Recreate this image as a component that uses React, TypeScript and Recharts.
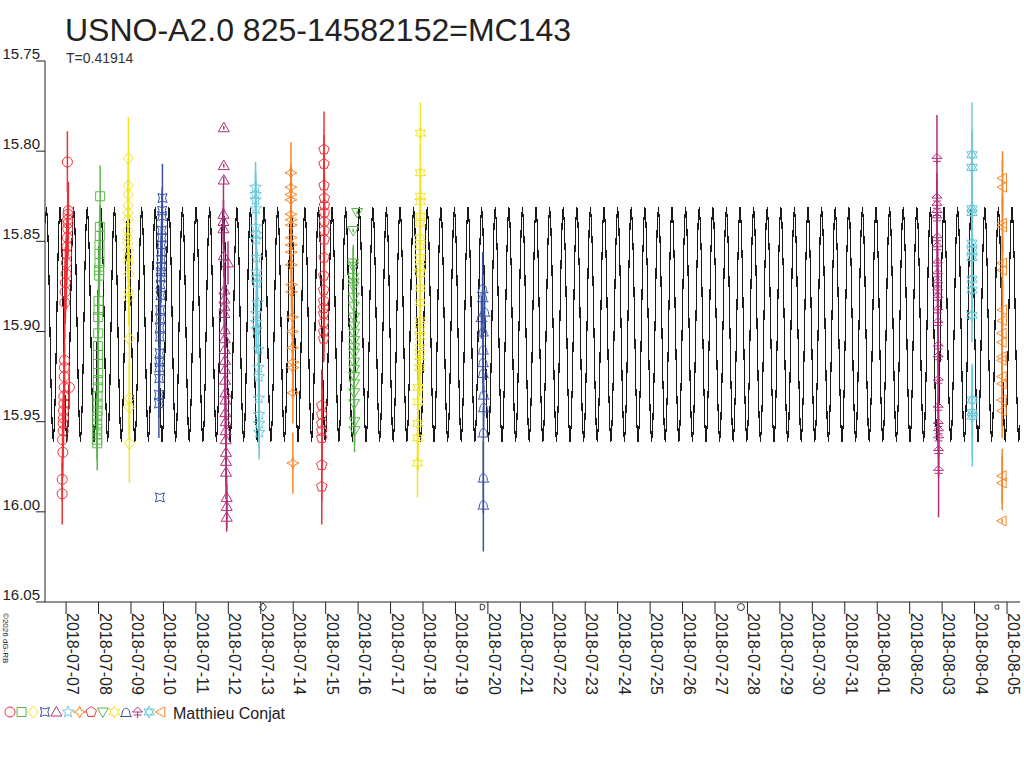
import React from "react";
import {
  ComposedChart,
  Line,
  Scatter,
  ErrorBar,
  XAxis,
  YAxis,
  ReferenceDot,
} from "recharts";

// days counted from 2018-07-07 00:00
const DATE_LABELS = [
  "2018-07-07", "2018-07-08", "2018-07-09", "2018-07-10", "2018-07-11",
  "2018-07-12", "2018-07-13", "2018-07-14", "2018-07-15", "2018-07-16",
  "2018-07-17", "2018-07-18", "2018-07-19", "2018-07-20", "2018-07-21",
  "2018-07-22", "2018-07-23", "2018-07-24", "2018-07-25", "2018-07-26",
  "2018-07-27", "2018-07-28", "2018-07-29", "2018-07-30", "2018-07-31",
  "2018-08-01", "2018-08-02", "2018-08-03", "2018-08-04", "2018-08-05",
];
const DAY_TICKS = DATE_LABELS.map((_, i) => i);
const MAG_TICKS = [15.75, 15.8, 15.85, 15.9, 15.95, 16.0, 16.05];
const X_DOMAIN: [number, number] = [-0.65, 29.4];
const Y_DOMAIN: [number, number] = [15.75, 16.05];

// model light curve: period and one cycle of magnitudes (phase 0 = maximum)
const PERIOD = 0.41914;
const EPOCH_MAX = 16.58;
const CYCLE_MAG = [
  15.831, 15.84, 15.863, 15.896, 15.929, 15.952,
  15.961, 15.952, 15.929, 15.896, 15.863, 15.84,
];

// observation sessions: [day, mag, error]
const S_0707 = [
  [-0.12, 15.99, 0.017], [-0.12, 15.982, 0.012], [-0.1, 15.967, 0.014], [-0.11, 15.96, 0.015],
  [-0.09, 15.955, 0.015], [-0.09, 15.951, 0.013], [-0.08, 15.948, 0.014], [-0.08, 15.944, 0.012],
  [-0.07, 15.94, 0.014], [-0.07, 15.936, 0.013], [-0.06, 15.931, 0.015], [-0.06, 15.925, 0.014],
  [-0.05, 15.92, 0.013], [-0.05, 15.916, 0.016], [0.1, 15.931, 0.012], [-0.04, 15.884, 0.02],
  [-0.03, 15.878, 0.018], [-0.02, 15.873, 0.02], [0.0, 15.868, 0.02], [0.01, 15.862, 0.018],
  [0.02, 15.857, 0.017], [0.03, 15.853, 0.016], [0.04, 15.848, 0.015], [0.05, 15.843, 0.017],
  [0.05, 15.838, 0.015], [0.06, 15.835, 0.016], [0.06, 15.84, 0.018], [0.07, 15.833, 0.016],
  [0.04, 15.806, 0.017],
];
const S_0708 = [
  [1.05, 15.825, 0.017], [1.04, 15.842, 0.012], [1.04, 15.847, 0.012], [1.03, 15.852, 0.013],
  [1.03, 15.857, 0.012], [1.03, 15.862, 0.013], [1.02, 15.866, 0.013], [1.02, 15.869, 0.012],
  [1.0, 15.883, 0.014], [1.0, 15.888, 0.013], [0.99, 15.892, 0.014], [0.99, 15.901, 0.012],
  [0.98, 15.908, 0.013], [0.98, 15.913, 0.012], [0.98, 15.918, 0.013], [0.99, 15.923, 0.012],
  [0.98, 15.927, 0.013], [0.98, 15.931, 0.012], [0.97, 15.936, 0.012], [0.97, 15.94, 0.013],
  [0.97, 15.944, 0.012], [0.96, 15.947, 0.012], [0.96, 15.951, 0.013], [0.96, 15.954, 0.012],
  [0.96, 15.957, 0.013], [0.96, 15.96, 0.012], [0.96, 15.962, 0.015],
];
const S_0709 = [
  [1.92, 15.804, 0.023], [1.92, 15.819, 0.015], [1.92, 15.824, 0.015], [1.91, 15.83, 0.014],
  [1.91, 15.834, 0.015], [1.91, 15.838, 0.014], [1.9, 15.844, 0.015], [1.9, 15.848, 0.014],
  [1.9, 15.851, 0.016], [1.92, 15.855, 0.015], [1.92, 15.859, 0.014], [1.92, 15.862, 0.015],
  [1.94, 15.868, 0.016], [1.93, 15.878, 0.015], [1.93, 15.881, 0.016], [1.95, 15.904, 0.02],
  [1.95, 15.937, 0.02], [1.95, 15.942, 0.018], [1.95, 15.962, 0.022],
];
const S_0710 = [
  [2.97, 15.826, 0.019], [2.96, 15.833, 0.013], [2.96, 15.836, 0.013], [2.95, 15.844, 0.014],
  [2.95, 15.848, 0.013], [2.94, 15.852, 0.013], [2.94, 15.856, 0.014], [2.93, 15.86, 0.013],
  [2.93, 15.864, 0.014], [2.92, 15.867, 0.013], [2.92, 15.87, 0.014], [2.91, 15.874, 0.013],
  [2.91, 15.88, 0.014], [2.9, 15.888, 0.013], [2.9, 15.893, 0.014], [2.89, 15.898, 0.013],
  [2.89, 15.903, 0.014], [2.88, 15.912, 0.013], [2.88, 15.917, 0.014], [2.87, 15.92, 0.013],
  [2.87, 15.926, 0.014], [2.86, 15.935, 0.013], [2.86, 15.94, 0.019], [2.89, 15.992, 0],
];
const S_0712 = [
  [4.86, 15.787, 0.001], [4.86, 15.808, 0.001], [4.86, 15.816, 0.002], [4.85, 15.835, 0.017],
  [4.85, 15.839, 0.012], [4.85, 15.843, 0.012], [4.86, 15.858, 0.012], [4.99, 15.862, 0.012],
  [4.88, 15.877, 0.015], [4.88, 15.882, 0.014], [4.88, 15.886, 0.015], [4.88, 15.89, 0.014],
  [4.89, 15.899, 0.015], [4.89, 15.904, 0.014], [4.89, 15.91, 0.015], [4.9, 15.916, 0.014],
  [4.9, 15.921, 0.015], [4.9, 15.927, 0.014], [4.91, 15.934, 0.015], [4.91, 15.938, 0.014],
  [4.91, 15.945, 0.015], [4.92, 15.95, 0.014], [4.92, 15.955, 0.015], [4.92, 15.96, 0.014],
  [4.93, 15.967, 0.015], [4.93, 15.972, 0.014], [4.93, 15.978, 0.015], [4.95, 15.992, 0.012],
  [4.95, 15.997, 0.012], [4.95, 16.003, 0.008],
];
const S_0713 = [
  [5.84, 15.82, 0.014], [5.84, 15.824, 0.013], [5.84, 15.827, 0.014], [5.85, 15.832, 0.013],
  [5.85, 15.842, 0.014], [5.86, 15.846, 0.013], [5.86, 15.849, 0.014], [5.87, 15.859, 0.014],
  [5.87, 15.867, 0.013], [5.88, 15.87, 0.014], [5.88, 15.873, 0.013], [5.9, 15.884, 0.014],
  [5.86, 15.89, 0.013], [5.86, 15.895, 0.014], [5.87, 15.899, 0.013], [5.93, 15.91, 0.014],
  [5.93, 15.92, 0.013], [5.94, 15.925, 0.014], [5.94, 15.937, 0.014], [5.95, 15.946, 0.013],
  [5.95, 15.951, 0.014], [5.95, 15.956, 0.015],
];
const S_0714 = [
  [6.93, 15.812, 0.017], [6.93, 15.82, 0.013], [6.93, 15.824, 0.013], [6.93, 15.827, 0.013],
  [6.93, 15.835, 0.013], [6.94, 15.838, 0.013], [6.94, 15.841, 0.013], [6.94, 15.848, 0.013],
  [6.94, 15.852, 0.013], [6.94, 15.856, 0.013], [6.94, 15.863, 0.014], [6.95, 15.874, 0.014],
  [6.95, 15.878, 0.014], [6.98, 15.892, 0.015], [6.98, 15.9, 0.015], [6.98, 15.909, 0.015],
  [6.99, 15.917, 0.016], [6.99, 15.92, 0.016], [6.99, 15.934, 0.017], [6.99, 15.973, 0.017],
];
const S_0715 = [
  [7.95, 15.799, 0.021], [7.95, 15.807, 0.016], [7.95, 15.819, 0.016], [7.96, 15.826, 0.015],
  [7.96, 15.83, 0.015], [7.96, 15.834, 0.015], [7.96, 15.839, 0.015], [7.96, 15.844, 0.015],
  [7.96, 15.849, 0.015], [7.95, 15.859, 0.016], [7.94, 15.869, 0.016], [7.94, 15.877, 0.016],
  [7.94, 15.883, 0.016], [7.94, 15.887, 0.016], [7.94, 15.89, 0.016], [7.94, 15.895, 0.016],
  [7.94, 15.9, 0.016], [7.94, 15.904, 0.013], [7.88, 15.941, 0.02], [7.88, 15.946, 0.02],
  [7.88, 15.951, 0.02], [7.88, 15.955, 0.02], [7.88, 15.959, 0.02], [7.88, 15.974, 0.02],
  [7.88, 15.986, 0.021],
];
const S_0716 = [
  [8.97, 15.834, 0.001], [8.85, 15.844, 0.001], [8.85, 15.862, 0.01], [8.85, 15.864, 0.01],
  [8.85, 15.87, 0.01], [8.86, 15.873, 0.01], [8.86, 15.875, 0.01], [8.87, 15.881, 0.01],
  [8.87, 15.886, 0.01], [8.88, 15.892, 0.01], [8.88, 15.897, 0.01], [8.88, 15.901, 0.01],
  [8.88, 15.905, 0.01], [8.88, 15.909, 0.01], [8.88, 15.912, 0.01], [8.88, 15.917, 0.01],
  [8.88, 15.921, 0.01], [8.88, 15.925, 0.01], [8.88, 15.929, 0.01], [8.88, 15.934, 0.01],
  [8.88, 15.94, 0.01], [8.89, 15.95, 0.012], [8.89, 15.955, 0.012],
];
const S_0718 = [
  [10.92, 15.79, 0.017], [10.92, 15.812, 0.016], [10.92, 15.825, 0.016], [10.92, 15.828, 0.016],
  [10.92, 15.836, 0.016], [10.91, 15.84, 0.016], [10.91, 15.848, 0.016], [10.91, 15.853, 0.016],
  [10.91, 15.859, 0.016], [10.91, 15.864, 0.016], [10.91, 15.868, 0.016], [10.92, 15.876, 0.016],
  [10.91, 15.884, 0.016], [10.91, 15.894, 0.016], [10.91, 15.899, 0.016], [10.91, 15.903, 0.016],
  [10.9, 15.909, 0.016], [10.9, 15.914, 0.016], [10.9, 15.92, 0.016], [10.85, 15.931, 0.018],
  [10.85, 15.939, 0.018], [10.84, 15.951, 0.018], [10.84, 15.959, 0.018], [10.83, 15.973, 0.019],
];
const S_0720 = [
  [12.84, 15.876, 0.02], [12.84, 15.881, 0.012], [12.9, 15.889, 0.012], [12.8, 15.892, 0.012],
  [12.85, 15.9, 0.012], [12.85, 15.91, 0.012], [12.85, 15.917, 0.012], [12.85, 15.923, 0.012],
  [12.87, 15.935, 0.012], [12.87, 15.942, 0.012], [12.86, 15.956, 0.014], [12.86, 15.981, 0.02],
  [12.86, 15.996, 0.026],
];
const S_0803 = [
  [26.84, 15.804, 0.024], [26.84, 15.826, 0.014], [26.84, 15.83, 0.014], [26.84, 15.834, 0.014],
  [26.84, 15.837, 0.014], [26.85, 15.848, 0.014], [26.85, 15.853, 0.014], [26.86, 15.862, 0.014],
  [26.86, 15.868, 0.014], [26.86, 15.873, 0.014], [26.86, 15.877, 0.014], [26.87, 15.881, 0.015],
  [26.87, 15.888, 0.015], [26.87, 15.895, 0.015], [26.88, 15.908, 0.015], [26.88, 15.914, 0.015],
  [26.88, 15.927, 0.015], [26.88, 15.942, 0.015], [26.88, 15.951, 0.015], [26.89, 15.955, 0.015],
  [26.89, 15.959, 0.015], [26.89, 15.966, 0.015], [26.89, 15.977, 0.026],
];
const S_0804 = [
  [27.92, 15.802, 0.029], [27.92, 15.809, 0.02], [27.92, 15.832, 0.015], [27.92, 15.834, 0.015],
  [27.92, 15.851, 0.015], [27.92, 15.855, 0.015], [27.92, 15.859, 0.015], [27.92, 15.871, 0.015],
  [27.92, 15.877, 0.015], [27.92, 15.891, 0.015], [27.93, 15.938, 0.02], [27.93, 15.945, 0.025],
  [27.93, 15.947, 0.028],
];
const S_0805 = [
  [28.86, 15.815, 0.015], [28.86, 15.82, 0.015], [28.86, 15.84, 0.015], [28.86, 15.842, 0.015],
  [28.86, 15.862, 0.015], [28.86, 15.866, 0.015], [28.86, 15.888, 0.015], [28.86, 15.894, 0.015],
  [28.85, 15.901, 0.015], [28.85, 15.906, 0.015], [28.85, 15.914, 0.015], [28.85, 15.916, 0.015],
  [28.85, 15.925, 0.015], [28.85, 15.929, 0.015], [28.85, 15.938, 0.015], [28.85, 15.944, 0.015],
  [28.85, 15.98, 0.015], [28.85, 15.984, 0.015], [28.85, 16.005, 0.001],
];

// small markers under the axis: [day, symbol]
const AXIS_MARKS: [number, string][] = [
  [6.07, "diamond"], [12.82, "halfR"], [20.8, "circle"], [28.69, "halfL"],
];

const RED = "#ef3038";
const GREEN = "#5ab84a";
const YELLOW = "#f2e51f";
const BLUE = "#3953a4";
const PURPLE = "#b1307c";
const CYAN = "#68c9da";
const ORANGE = "#f7862a";

const SESSIONS = [
  { data: S_0707, color: RED, symbol: "circle" },
  { data: S_0708, color: GREEN, symbol: "square" },
  { data: S_0709, color: YELLOW, symbol: "diamond" },
  { data: S_0710, color: BLUE, symbol: "astroid" },
  { data: S_0712, color: PURPLE, symbol: "triangle" },
  { data: S_0713, color: CYAN, symbol: "star5" },
  { data: S_0714, color: ORANGE, symbol: "star4" },
  { data: S_0715, color: RED, symbol: "pentagon" },
  { data: S_0716, color: GREEN, symbol: "triDown" },
  { data: S_0718, color: YELLOW, symbol: "star6" },
  { data: S_0720, color: BLUE, symbol: "bell" },
  { data: S_0803, color: PURPLE, symbol: "trident" },
  { data: S_0804, color: CYAN, symbol: "hexagram" },
  { data: S_0805, color: ORANGE, symbol: "triLeft" },
];

const OBSERVER = "Matthieu Conjat";
const FONT = "'Liberation Sans', Arial, sans-serif";

function starPath(points: number, outer: number, inner: number) {
  let d = "";
  for (let i = 0; i < points * 2; i++) {
    const r = i % 2 === 0 ? outer : inner;
    const a = (Math.PI * i) / points - Math.PI / 2;
    d += `${i === 0 ? "M" : "L"}${(r * Math.cos(a)).toFixed(2)},${(r * Math.sin(a)).toFixed(2)}`;
  }
  return d + "Z";
}

const GLYPHS: Record<string, string> = {
  square: "M-4.5,-4.5H4.5V4.5H-4.5Z",
  diamond: "M0,-6L5,0L0,6L-5,0Z",
  astroid: "M-4.5,-4.5Q0,-1.5 4.5,-4.5Q1.5,0 4.5,4.5Q0,1.5 -4.5,4.5Q-1.5,0 -4.5,-4.5Z",
  triangle: "M0,-5.5L5.5,4L-5.5,4Z",
  star5: starPath(5, 6, 2.6),
  star4: "M0,-6L1.8,-1.8L6,0L1.8,1.8L0,6L-1.8,1.8L-6,0L-1.8,-1.8Z",
  pentagon: starPath(5, 5.5, 4.45),
  triDown: "M-5.5,-4L5.5,-4L0,5.5Z",
  star6: starPath(6, 6, 3),
  bell: "M-4,3C-4,-6 4,-6 4,3L5.5,4.5L-5.5,4.5Z",
  trident: "M0,-5L5,0L-5,0ZM0,0V6M-4,3H4",
  hexagram: "M0,-6L5.2,3L-5.2,3ZM0,6L5.2,-3L-5.2,-3Z",
  triLeft: "M-5.5,0L4,-5L4,5Z",
  halfR: "M-2.5,-4H0A4,4 0 0 1 0,4H-2.5Z",
  halfL: "M2.5,-3H0A3,3 0 0 0 0,3H2.5Z",
};

function Glyph({ cx, cy, symbol, color, scale = 1 }: any) {
  if (cx == null || cy == null) return null;
  const common = { fill: "none", stroke: color, strokeWidth: 1 / scale };
  return (
    <g transform={`translate(${cx},${cy}) scale(${scale})`}>
      {symbol === "circle" ? (
        <circle r={5} {...common} />
      ) : (
        <path d={GLYPHS[symbol]} {...common} />
      )}
    </g>
  );
}

function buildCurve() {
  const pts: { t: number; mag: number }[] = [];
  const first = Math.floor((X_DOMAIN[0] - EPOCH_MAX) / PERIOD);
  const last = Math.ceil((X_DOMAIN[1] - EPOCH_MAX) / PERIOD);
  for (let n = first; n <= last; n++) {
    CYCLE_MAG.forEach((mag, j) => {
      const t = EPOCH_MAX + (n + j / CYCLE_MAG.length) * PERIOD;
      if (t >= X_DOMAIN[0] && t <= X_DOMAIN[1]) pts.push({ t, mag });
    });
  }
  return pts;
}

const curveData = buildCurve();
const sessionData = SESSIONS.map((s) => ({
  ...s,
  rows: s.data.map(([t, mag, err]) => ({ t, mag, err })),
}));

function XTick({ x, y, payload }: any) {
  return (
    <text
      transform={`translate(${x + 1},${y - 1}) rotate(90)`}
      textAnchor="start"
      fontSize={16}
      fontFamily={FONT}
      fill="#222"
    >
      {DATE_LABELS[payload.value]}
    </text>
  );
}

function YTick({ x, y, payload }: any) {
  return (
    <text x={x + 4} y={y - 2} textAnchor="end" fontSize={15} fontFamily={FONT} fill="#222">
      {payload.value.toFixed(2)}
    </text>
  );
}

export default function App() {
  return (
    <div
      style={{
        position: "absolute",
        left: 0,
        top: 0,
        width: 1024,
        height: 768,
        background: "#fff",
        fontFamily: FONT,
      }}
    >
      <style>{`.curve .recharts-line-curve { shape-rendering: crispEdges; }`}</style>
      <ComposedChart
        width={1024}
        height={768}
        margin={{ top: 61, right: 4, bottom: 0, left: 0 }}
      >
        <XAxis
          type="number"
          dataKey="t"
          domain={X_DOMAIN}
          ticks={DAY_TICKS}
          allowDataOverflow
          interval={0}
          height={166}
          tickSize={12}
          tickMargin={0}
          stroke="#222"
          tick={<XTick />}
        />
        <YAxis
          type="number"
          dataKey="mag"
          domain={Y_DOMAIN}
          ticks={MAG_TICKS}
          reversed
          allowDataOverflow
          interval={0}
          width={45}
          tickSize={9}
          tickMargin={0}
          stroke="#222"
          tick={<YTick />}
        />
        <Line
          className="curve"
          data={curveData}
          dataKey="mag"
          type="linear"
          stroke="#1a1a1a"
          strokeWidth={1.2}
          dot={false}
          activeDot={false}
          isAnimationActive={false}
        />
        {sessionData.map((s, i) => (
          <Scatter
            key={i}
            data={s.rows}
            dataKey="mag"
            isAnimationActive={false}
            shape={(p: any) => <Glyph cx={p.cx} cy={p.cy} symbol={s.symbol} color={s.color} />}
          >
            <ErrorBar
              dataKey="err"
              direction="y"
              width={0}
              stroke={s.color}
              strokeWidth={1.5}
              isAnimationActive={false}
            />
          </Scatter>
        ))}
        {AXIS_MARKS.map(([t, symbol], i) => (
          <ReferenceDot
            key={i}
            x={t}
            y={16.0528}
            ifOverflow="visible"
            shape={(p: any) => (
              <Glyph cx={p.cx} cy={p.cy} symbol={symbol} color="#333" scale={0.7} />
            )}
          />
        ))}
      </ComposedChart>
      <svg
        width={1024}
        height={768}
        style={{ position: "absolute", left: 0, top: 0, pointerEvents: "none" }}
      >
        <text x={65} y={41} fontSize={32} fontFamily={FONT} fill="#222">
          USNO-A2.0 825-14582152=MC143
        </text>
        <text x={66} y={63} fontSize={14} fontFamily={FONT} fill="#333">
          T=0.41914
        </text>
        <text
          transform="translate(3,613) rotate(90)"
          fontSize={8}
          fontFamily={FONT}
          fill="#222"
        >
          ©2026 dG-RB
        </text>
        {SESSIONS.map((s, i) => (
          <Glyph key={i} cx={10 + i * 11.6} cy={712} symbol={s.symbol} color={s.color} />
        ))}
        <text x={173} y={719} fontSize={16} fontFamily={FONT} fill="#222">
          {OBSERVER}
        </text>
      </svg>
    </div>
  );
}
